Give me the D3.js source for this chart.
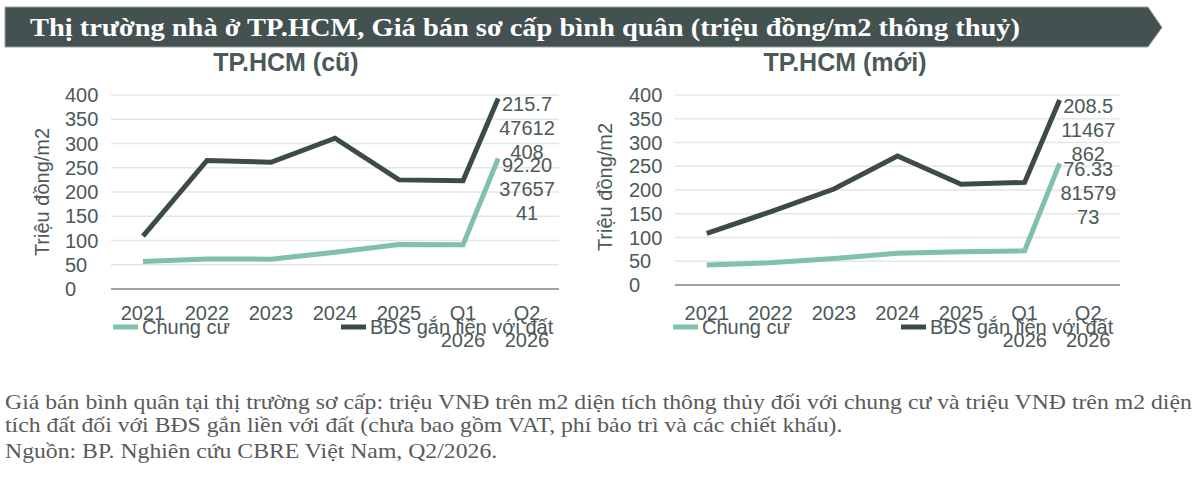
<!DOCTYPE html>
<html>
<head>
<meta charset="utf-8">
<script src="https://cdn.jsdelivr.net/npm/d3@7"></script>
<style>
  body { margin: 0; background: #fff; }
  svg { display: block; }
</style>
</head>
<body>
<script>
const width = 1200;
const height = 479;

// categories and data
const categories = [['2021'], ['2022'], ['2023'], ['2024'], ['2025'], ['Q1', '2026'], ['Q2', '2026']];
// last point is drawn between the Q1 and Q2 slots in the original
const pointPos = [0, 1, 2, 3, 4, 5, 5.55];
const yTicks = [0, 50, 100, 150, 200, 250, 300, 350, 400];

const oldApartment = [56.7, 62, 61.5, 76, 91.7, 91, 269];
const oldLanded = [109, 265, 261.4, 311, 225, 223, 393];
const newApartment = [42, 47, 56, 66.7, 70, 72, 256];
const newLanded = [108.8, 154, 202, 271.6, 212, 216, 389.5];

const oldLabels = [['215.7', '47612', '408'], ['92.20', '37657', '41']];
const newLabels = [['208.5', '11467', '862'], ['76.33', '81579', '73']];

const seriesNames = ['Chung cư', 'BĐS gắn liền với đất'];
const colors = ['#80c1a9', '#3c4b4a'];
const textColor = '#4b5958';

const svg = d3.select('body')
    .append('svg')
    .attr('width', width)
    .attr('height', height);

// title banner
const bar = svg.append('g');
bar.append('path')
    .attr('d', 'M5,7 L1148,7 L1162,27.5 L1148,47 L5,47 Z')
    .style('fill', '#435150')
    .style('stroke', '#9aa3a2')
    .style('stroke-width', 1);
bar.append('text')
    .attr('x', 30)
    .attr('y', 36)
    .attr('textLength', 990)
    .attr('lengthAdjust', 'spacingAndGlyphs')
    .style('font-family', '"Liberation Serif", "Times New Roman", serif')
    .style('font-weight', 'bold')
    .style('font-size', '26px')
    .style('fill', '#fff')
    .text('Thị trường nhà ở TP.HCM, Giá bán sơ cấp bình quân (triệu đồng/m2 thông thuỷ)');

function drawChart(opt) {
    const g = svg.append('g')
        .style('font-family', '"Liberation Sans", Arial, sans-serif');

    const x = d3.scaleLinear()
        .domain([-0.5, categories.length - 0.5])
        .range([opt.left, opt.right]);
    const y = d3.scaleLinear()
        .domain([0, 400])
        .range([opt.bottom, opt.top]);

    g.append('text')
        .attr('x', opt.titleX)
        .attr('y', 71)
        .attr('text-anchor', 'middle')
        .style('font-size', '25px')
        .style('font-weight', 'bold')
        .style('fill', textColor)
        .text(opt.title);

    g.append('text')
        .attr('transform', `translate(${opt.axisTitleX},${opt.axisTitleY}) rotate(-90)`)
        .attr('text-anchor', 'middle')
        .attr('dy', '0.35em')
        .style('font-size', '20px')
        .style('fill', textColor)
        .text('Triệu đồng/m2');

    // gridlines
    g.append('g')
        .selectAll('line')
        .data(yTicks.filter(d => d > 0))
        .enter().append('line')
        .attr('x1', opt.left)
        .attr('x2', opt.right)
        .attr('y1', d => y(d))
        .attr('y2', d => y(d))
        .style('stroke', '#e4e6e6')
        .style('stroke-width', 1.5);

    g.append('line')
        .attr('x1', opt.left)
        .attr('x2', opt.right)
        .attr('y1', y(0))
        .attr('y2', y(0))
        .style('stroke', '#7d8786')
        .style('stroke-width', 1.5);

    // tick labels, left aligned like the original
    g.append('g')
        .selectAll('text')
        .data(yTicks)
        .enter().append('text')
        .attr('x', opt.tickX)
        .attr('y', d => y(d))
        .attr('dy', '0.35em')
        .style('font-size', '20px')
        .style('fill', textColor)
        .text(d => d);

    // category labels
    const cat = g.append('g')
        .selectAll('text')
        .data(categories)
        .enter().append('text')
        .attr('text-anchor', 'middle')
        .attr('x', (d, i) => x(i))
        .attr('y', 320)
        .style('font-size', '20px')
        .style('fill', textColor);
    cat.selectAll('tspan')
        .data(d => d)
        .enter().append('tspan')
        .attr('x', function () { return this.parentNode.getAttribute('x'); })
        .attr('dy', (d, i) => i === 0 ? 0 : 27)
        .text(d => d);

    const line = d3.line()
        .x((d, i) => x(pointPos[i]))
        .y(d => y(d));

    opt.series.forEach((s, k) => {
        g.append('path')
            .datum(s)
            .attr('d', line)
            .style('fill', 'none')
            .style('stroke', colors[k])
            .style('stroke-width', 5)
            .style('stroke-linejoin', 'miter');
    });

    // data labels at the last point
    opt.labels.forEach((lab, k) => {
        const last = opt.series[1 - k][opt.series[1 - k].length - 1];
        const t = g.append('text')
            .attr('text-anchor', 'middle')
            .attr('x', x(categories.length - 1))
            .attr('y', y(last) + 37 - 24)
            .attr('dy', '0.35em')
            .style('font-size', '20px')
            .style('fill', textColor);
        t.selectAll('tspan')
            .data(lab)
            .enter().append('tspan')
            .attr('x', x(categories.length - 1))
            .attr('dy', (d, i) => i === 0 ? 0 : 24)
            .text(d => d);
    });

    // legend
    const leg = g.append('g');
    [opt.legendA, opt.legendB].forEach((lx, k) => {
        leg.append('line')
            .attr('x1', lx)
            .attr('x2', lx + 25)
            .attr('y1', 327)
            .attr('y2', 327)
            .style('stroke', colors[k])
            .style('stroke-width', 5);
        leg.append('text')
            .attr('x', lx + 29)
            .attr('y', 327)
            .attr('dy', '0.35em')
            .style('font-size', '20px')
            .style('fill', textColor)
            .text(seriesNames[k]);
    });
}

drawChart({
    title: 'TP.HCM (cũ)',
    titleX: 286,
    left: 111, right: 559, top: 95, bottom: 289,
    tickX: 65,
    axisTitleX: 42, axisTitleY: 192,
    series: [oldApartment, oldLanded],
    labels: [oldLabels[0], oldLabels[1]],
    legendA: 113, legendB: 341
});

drawChart({
    title: 'TP.HCM (mới)',
    titleX: 845,
    left: 675, right: 1120, top: 95, bottom: 285,
    tickX: 629,
    axisTitleX: 605, axisTitleY: 187,
    series: [newApartment, newLanded],
    labels: [newLabels[0], newLabels[1]],
    legendA: 673, legendB: 901
});

// footnote (the original text is wider than the plain font)
const notes = [
    'Giá bán bình quân tại thị trường sơ cấp: triệu VNĐ trên m2 diện tích thông thủy đối với chung cư và triệu VNĐ trên m2 diện',
    'tích đất đối với BĐS gắn liền với đất (chưa bao gồm VAT, phí bảo trì và các chiết khấu).',
    'Nguồn: BP. Nghiên cứu CBRE Việt Nam, Q2/2026.'
];
const foot = svg.append('g')
    .selectAll('text')
    .data(notes)
    .enter().append('text')
    .attr('x', 5)
    .attr('y', (d, i) => [409, 432, 458][i])
    .style('font-family', '"Liberation Serif", "Times New Roman", serif')
    .style('font-size', '21px')
    .style('fill', '#5a5a5a')
    .text(d => d);
foot.each(function () {
    const w = this.getComputedTextLength();
    d3.select(this)
        .attr('textLength', w * 1.13)
        .attr('lengthAdjust', 'spacingAndGlyphs');
});
</script>
</body>
</html>
